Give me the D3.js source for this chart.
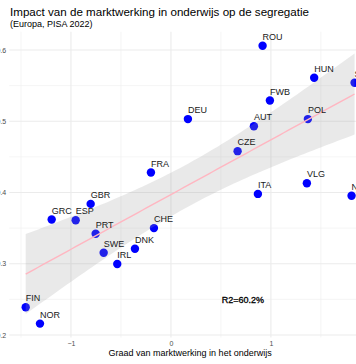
<!DOCTYPE html>
<html><head><meta charset="utf-8">
<script src="https://cdn.jsdelivr.net/npm/d3@7"></script>
<style>
html,body{margin:0;padding:0;background:#fff;overflow:hidden;}
svg{display:block;overflow:hidden;font-family:"Liberation Sans",Arial,Helvetica,sans-serif;}
</style></head><body>
<script>
const countries = ["ROU","HUN","SVK","FWB","DEU","AUT","POL","CZE","VLG","ITA","NLD","FRA","GBR","GRC","ESP","PRT","CHE","DNK","SWE","IRL","FIN","NOR"];
const marketValues = [0.917,1.433,1.837,0.99,0.17,0.83,1.37,0.667,1.36,0.87,1.807,-0.2,-0.803,-1.193,-0.953,-0.753,-0.17,-0.36,-0.673,-0.537,-1.453,-1.31];
const segregationValues = [0.606,0.561,0.554,0.529,0.503,0.493,0.503,0.458,0.413,0.398,0.3955,0.428,0.384,0.362,0.361,0.342,0.350,0.321,0.3155,0.2997,0.239,0.216];
const xTicks = [-1,0,1];
const yTicks = [0.2,0.3,0.4,0.5,0.6];
const xMinor = [-1.5,-0.5,0.5,1.5];
const yMinor = [0.25,0.35,0.45,0.55];
const titleText = "Impact van de marktwerking in onderwijs op de segregatie";
const subtitleText = "(Europa, PISA 2022)";
const xTitle = "Graad van marktwerking in het onderwijs";
const r2Label = "R2=60.2%";
const r2Pos = [0.72, 0.249];
const tCrit = 2.086; // t(0.975, df=20)

const W = 356, H = 364;
const data = countries.map((c,i)=>({c, x:marketValues[i], y:segregationValues[i]}));

const xExt = d3.extent(marketValues), yExt = d3.extent(segregationValues);
const xPad = (xExt[1]-xExt[0])*0.05, yPad = (yExt[1]-yExt[0])*0.05;
const xDom = [xExt[0]-xPad, xExt[1]+xPad], yDom = [yExt[0]-yPad, yExt[1]+yPad];

const panel = {left: 9.25, right: 371, top: 31.8, bottom: 337.5};
const x = d3.scaleLinear().domain(xDom).range([panel.left, panel.right]);
const y = d3.scaleLinear().domain(yDom).range([panel.bottom, panel.top]);

const svg = d3.select("body").append("svg").attr("width",W).attr("height",H);

// grid
const g = svg.append("g");
g.selectAll("line.xminor").data(xMinor).join("line").attr("x1",d=>x(d)).attr("x2",d=>x(d)).attr("y1",panel.top).attr("y2",panel.bottom).attr("stroke","#efefef").attr("stroke-width",0.6);
g.selectAll("line.yminor").data(yMinor).join("line").attr("y1",d=>y(d)).attr("y2",d=>y(d)).attr("x1",panel.left).attr("x2",panel.right).attr("stroke","#efefef").attr("stroke-width",0.6);
g.selectAll("line.xmajor").data(xTicks).join("line").attr("x1",d=>x(d)).attr("x2",d=>x(d)).attr("y1",panel.top).attr("y2",panel.bottom).attr("stroke","#ebebeb").attr("stroke-width",1.1);
g.selectAll("line.ymajor").data(yTicks).join("line").attr("y1",d=>y(d)).attr("y2",d=>y(d)).attr("x1",panel.left).attr("x2",panel.right).attr("stroke","#ebebeb").attr("stroke-width",1.1);

// axes
const xAxis = d3.axisBottom(x).tickValues(xTicks).tickSize(0).tickPadding(4).tickFormat(d=>d3.format("d")(d).replace("-","\u2212"));
const gx = svg.append("g").attr("transform",`translate(0,${panel.bottom})`).call(xAxis);
gx.select(".domain").remove();
gx.selectAll("text").attr("fill","#4d4d4d").attr("font-size",7).attr("font-family","Liberation Sans, Arial, sans-serif");
const yAxis = d3.axisLeft(y).tickValues(yTicks).tickSize(0).tickPadding(3).tickFormat(d3.format(".1f"));
const gy = svg.append("g").attr("transform",`translate(${panel.left},0)`).call(yAxis);
gy.select(".domain").remove();
gy.selectAll("text").attr("fill","#4d4d4d").attr("font-size",7).attr("font-family","Liberation Sans, Arial, sans-serif");

// regression
const n = data.length;
const mx = d3.mean(marketValues), my = d3.mean(segregationValues);
const sxx = d3.sum(data,d=>(d.x-mx)**2), sxy = d3.sum(data,d=>(d.x-mx)*(d.y-my));
const slope = sxy/sxx, icpt = my - slope*mx;
const sse = d3.sum(data,d=>(d.y-(icpt+slope*d.x))**2);
const s = Math.sqrt(sse/(n-2));
const grid = d3.range(80).map(i=>xExt[0]+(xExt[1]-xExt[0])*i/79);
const band = grid.map(v=>{const f=icpt+slope*v; const se=s*Math.sqrt(1/n+(v-mx)**2/sxx)*tCrit; return {v,f,lo:f-se,hi:f+se};});

// points
svg.append("g").selectAll("circle").data(data).join("circle")
  .attr("cx",d=>x(d.x)).attr("cy",d=>y(d.y)).attr("r",4.2).attr("fill","#0000ff");

svg.append("path").datum(band)
  .attr("d",d3.area().x(d=>x(d.v)).y0(d=>y(d.lo)).y1(d=>y(d.hi)))
  .attr("fill","#999999").attr("fill-opacity",0.22);
svg.append("path").datum(band)
  .attr("d",d3.line().x(d=>x(d.v)).y(d=>y(d.f)))
  .attr("fill","none").attr("stroke","#ffb6c1").attr("stroke-width",1.4);

// labels
svg.append("g").selectAll("text").data(data).join("text")
  .attr("x",d=>x(d.x)).attr("y",d=>y(d.y)-6)
  .attr("font-size",9).attr("fill","#1a1a1a").text(d=>d.c);

svg.append("text").attr("x",x(r2Pos[0])).attr("y",y(r2Pos[1])).attr("text-anchor","middle").attr("dy","0.35em")
  .attr("font-size",9).attr("fill","#000").attr("stroke","#000").attr("stroke-width",0.3).text(r2Label);

// titles
svg.append("text").attr("x",10).attr("y",15.5).attr("font-size",11.6).attr("fill","#000").text(titleText);
svg.append("text").attr("x",10).attr("y",26.5).attr("font-size",9).attr("fill","#000").text(subtitleText);
svg.append("text").attr("x",(panel.left+panel.right)/2).attr("y",356).attr("text-anchor","middle").attr("font-size",9).attr("fill","#000").text(xTitle);
</script>
</body></html>
